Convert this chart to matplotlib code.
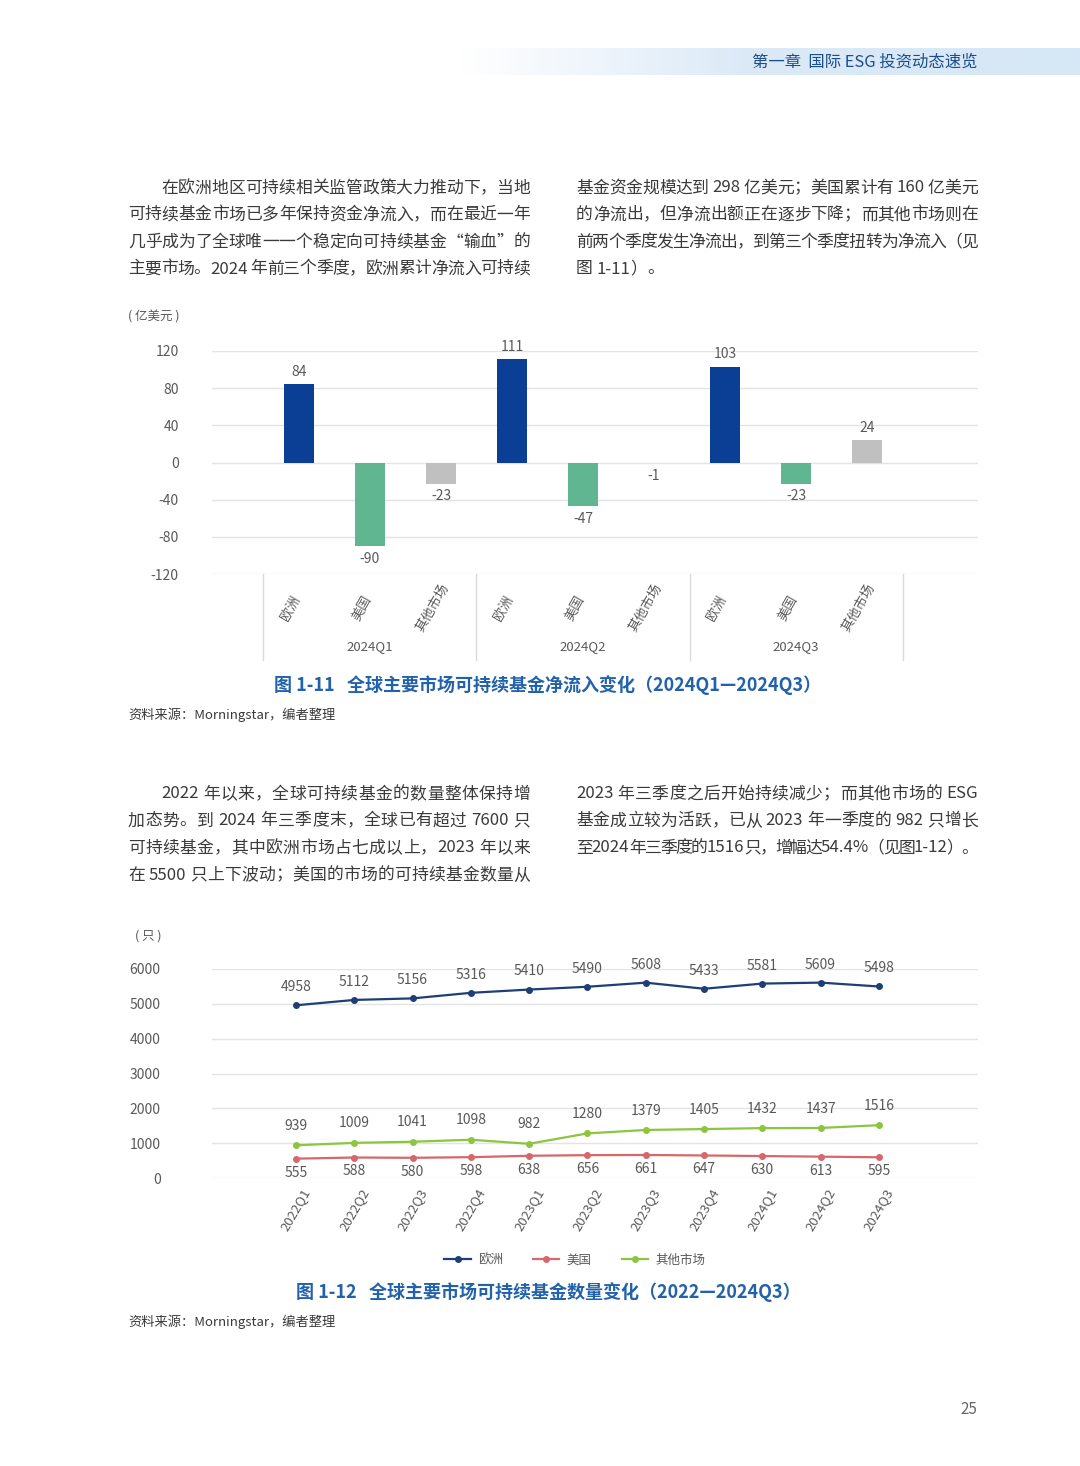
import numpy as np
import matplotlib
matplotlib.use("Agg")
import matplotlib.pyplot as plt
from matplotlib import font_manager
from matplotlib.ft2font import FT2Font
from matplotlib.colors import LinearSegmentedColormap
from matplotlib.lines import Line2D

plt.rcParams['font.family'] = ['Noto Sans CJK SC', 'DejaVu Sans']
plt.rcParams['axes.unicode_minus'] = False

W, H = 1080, 1466

# ---- 图 1-11 净流入 (亿美元) ----
quarters = ["2024Q1", "2024Q2", "2024Q3"]
markets = ["欧洲", "美国", "其他市场"]
europe_flow = [84, 111, 103]
us_flow = [-90, -47, -23]
other_flow = [-23, -1, 24]

# ---- 图 1-12 基金数量 (只) ----
periods = ["2022Q1", "2022Q2", "2022Q3", "2022Q4", "2023Q1", "2023Q2",
           "2023Q3", "2023Q4", "2024Q1", "2024Q2", "2024Q3"]
europe_count = [4958, 5112, 5156, 5316, 5410, 5490, 5608, 5433, 5581, 5609, 5498]
us_count = [555, 588, 580, 598, 638, 656, 661, 647, 630, 613, 595]
other_count = [939, 1009, 1041, 1098, 982, 1280, 1379, 1405, 1432, 1437, 1516]

# ---- page text ----
para1_left = [
    "在欧洲地区可持续相关监管政策大力推动下，当地",
    "可持续基金市场已多年保持资金净流入，而在最近一年",
    "几乎成为了全球唯一一个稳定向可持续基金“输血”的",
    "主要市场。2024 年前三个季度，欧洲累计净流入可持续",
]
para1_right = [
    "基金资金规模达到 298 亿美元；美国累计有 160 亿美元",
    "的净流出，但净流出额正在逐步下降；而其他市场则在",
    "前两个季度发生净流出，到第三个季度扭转为净流入（见",
    "图 1-11）。",
]
para2_left = [
    "2022 年以来，全球可持续基金的数量整体保持增",
    "加态势。到 2024 年三季度末，全球已有超过 7600 只",
    "可持续基金，其中欧洲市场占七成以上，2023 年以来",
    "在 5500 只上下波动；美国的市场的可持续基金数量从",
]
para2_right = [
    "2023 年三季度之后开始持续减少；而其他市场的 ESG",
    "基金成立较为活跃，已从 2023 年一季度的 982 只增长",
    "至2024 年三季度的1516 只，增幅达54.4%（见图1-12）。",
]

BLUE = "#0B3F95"
GREEN = "#5FB690"
GREY_BAR = "#C0C0C0"
NAVY = "#1F3E78"
RED = "#D6676A"
LIME = "#8CC540"
TEXT = "#3A3A3A"
AXIS_TXT = "#595959"
GRID = "#E3E3E3"
CAPTION = "#2262AA"
BODY_FS = 12.1


def fx(x):
    return x / W


def fy(y):
    return 1 - y / H


fig = plt.figure(figsize=(W / 100, H / 100), dpi=100)
fig.patch.set_facecolor("white")

# header band
hdr = fig.add_axes([fx(460), fy(75), fx(620), 27 / H])
cmap = LinearSegmentedColormap.from_list(
    "hdr", [(0, "#FFFFFF"), (0.45, "#DCEAF7"), (1, "#D6E7F6")])
hdr.imshow(np.linspace(0, 1, 256).reshape(1, -1), cmap=cmap,
           aspect="auto", extent=[0, 1, 0, 1])
hdr.axis("off")
fig.text(fx(752), fy(62), "第一章  国际 ESG 投资动态速览", fontsize=11.8,
         color="#1D4E8C", va="center")

# body text, justified by hand (char advances from the font file)
body_font = FT2Font(font_manager.findfont("Noto Sans CJK SC"))
body_font.set_size(BODY_FS, 100)


def advance(s):
    return sum(body_font.load_char(ord(c)).linearHoriAdvance / 65536 for c in s)


def tokens(line):
    out, run = [], ""
    for c in line:
        if ord(c) < 128 and c != " ":
            run += c
            continue
        if run:
            out.append(run)
            run = ""
        out.append(c)
    if run:
        out.append(run)
    return out


def put_line(x0, x1, y, line, justify=True):
    toks = tokens(line)
    widths = [advance(t) for t in toks]
    gap = 0
    if justify and len(toks) > 1:
        gap = (x1 - x0 - sum(widths)) / (len(toks) - 1)
    x = x0
    for t, w in zip(toks, widths):
        if t != " ":
            fig.text(fx(x), fy(y), t, fontsize=BODY_FS, color=TEXT, va="center")
        x += w + gap


def put_para(x0, x1, y0, lines, indent=False, last_free=False):
    for k, line in enumerate(lines):
        start = x0 + (33 if indent and k == 0 else 0)
        free = last_free and k == len(lines) - 1
        put_line(start, x1, y0 + 27 * k, line, justify=not free)


put_para(128, 530, 188, para1_left, indent=True)
put_para(576, 978, 188, para1_right, last_free=True)
put_para(128, 530, 794, para2_left, indent=True)
put_para(576, 978, 794, para2_right)

# ================= chart 1: bars =================
ax1 = fig.add_axes([fx(212), fy(574), fx(978) - fx(212), (574 - 351) / H])
flows, colors = [], []
for q in range(len(quarters)):
    for v, c in zip((europe_flow[q], us_flow[q], other_flow[q]),
                    (BLUE, GREEN, GREY_BAR)):
        flows.append(v)
        colors.append(c)
xpos = np.arange(len(flows))
ax1.bar(xpos, flows, width=0.41, color=colors, zorder=3)
ax1.set_xlim(-1.225, 9.563)
ax1.set_ylim(-120, 120)
ax1.set_yticks(np.arange(-120, 121, 40))
ax1.set_xticks([])
ax1.grid(axis="y", color=GRID, lw=1)
for s in ax1.spines.values():
    s.set_visible(False)
ax1.tick_params(axis="y", length=0, labelsize=10, labelcolor=AXIS_TXT, pad=24)

for x, v in zip(xpos, flows):
    off = 4 if v >= 0 else -4
    ax1.annotate(str(v), (x, v), xytext=(0, off), textcoords="offset points",
                 ha="center", va="bottom" if v >= 0 else "top",
                 fontsize=10, color=AXIS_TXT)

trans1 = ax1.get_xaxis_transform()
for i, x in enumerate(xpos):
    ax1.text(x - 0.12, -0.1525, markets[i % 3], transform=trans1, rotation=60,
             ha="center", va="center", rotation_mode="anchor",
             fontsize=9.5, color=AXIS_TXT)
for q, name in enumerate(quarters):
    ax1.text(3 * q + 1, -0.327, name, transform=trans1, ha="center",
             va="center", fontsize=9.5, color=AXIS_TXT)
for b in range(len(quarters) + 1):
    ax1.plot([3 * b - 0.5] * 2, [0, -0.386], transform=trans1,
             color="#DADADA", lw=1, clip_on=False)

fig.text(fx(128), fy(317), "( 亿美元 )", fontsize=9, color=AXIS_TXT, va="center")
fig.text(fx(548), fy(685),
         "图 1-11   全球主要市场可持续基金净流入变化（2024Q1—2024Q3）",
         fontsize=13, fontweight="bold", color=CAPTION, ha="center", va="center")
fig.text(fx(128), fy(715), "资料来源：Morningstar，编者整理", fontsize=9.5,
         color=TEXT, va="center")

# ================= chart 2: lines =================
ax2 = fig.add_axes([fx(212), fy(1178), fx(978) - fx(212), (1178 - 969) / H])
xs = np.arange(len(periods))
series = [
    ("欧洲", europe_count, NAVY, 13),
    ("美国", us_count, RED, -10),
    ("其他市场", other_count, LIME, 14),
]
handles = []
for name, vals, col, off in series:
    ax2.plot(xs, vals, color=col, lw=1.6, marker="o", ms=4, zorder=3)
    handles.append(Line2D([], [], color=col, lw=1.6, marker="o", ms=4))
    for x, v in zip(xs, vals):
        ax2.annotate(str(v), (x, v), xytext=(0, off), textcoords="offset points",
                     ha="center", va="center", fontsize=10, color=AXIS_TXT)

ax2.set_xlim(-1.44, 11.70)
ax2.set_ylim(0, 6000)
ax2.set_yticks(np.arange(0, 6001, 1000))
ax2.set_xticks([])
ax2.grid(axis="y", color=GRID, lw=1)
for s in ax2.spines.values():
    s.set_visible(False)
ax2.tick_params(axis="y", length=0, labelsize=10, labelcolor=AXIS_TXT, pad=37)

trans2 = ax2.get_xaxis_transform()
for x, p in zip(xs, periods):
    ax2.text(x, -0.153, p, transform=trans2, rotation=60, ha="center",
             va="center", rotation_mode="anchor", fontsize=9.5, color=AXIS_TXT)

ax2.legend(handles, [s[0] for s in series], loc="center",
           bbox_to_anchor=(fx(575), fy(1260)), bbox_transform=fig.transFigure,
           ncol=3, frameon=False, fontsize=9, handlelength=2.1,
           columnspacing=2.4, handletextpad=0.6, labelcolor=AXIS_TXT)

fig.text(fx(135), fy(936), "( 只 )", fontsize=9, color=AXIS_TXT, va="center")
fig.text(fx(548), fy(1292),
         "图 1-12   全球主要市场可持续基金数量变化（2022—2024Q3）",
         fontsize=13, fontweight="bold", color=CAPTION, ha="center", va="center")
fig.text(fx(128), fy(1322), "资料来源：Morningstar，编者整理", fontsize=9.5,
         color=TEXT, va="center")

fig.text(fx(969), fy(1410), "25", fontsize=11, color="#666666",
         ha="center", va="center")

fig.savefig("out.png", dpi=100, facecolor="white")
